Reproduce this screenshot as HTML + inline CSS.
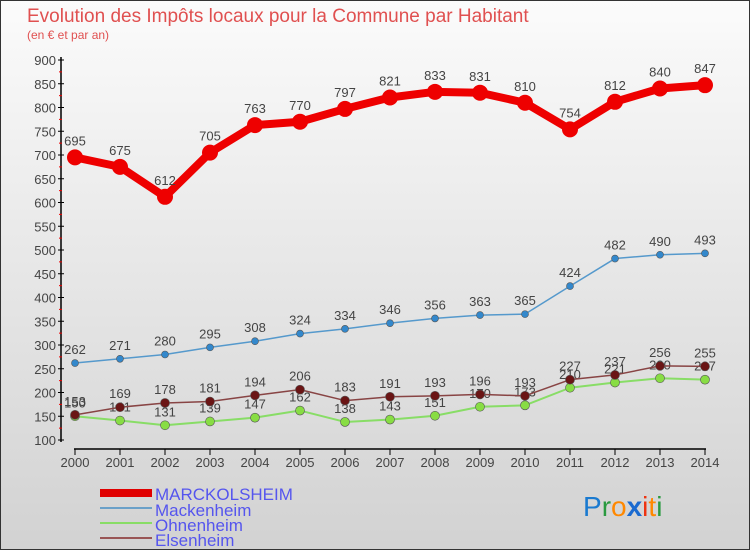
<!DOCTYPE html>
<html><head><meta charset="utf-8"><style>
body{margin:0;width:750px;height:550px;overflow:hidden;font-family:"Liberation Sans",sans-serif}
#c{position:absolute;left:0;top:0;width:748px;height:548px;border:1px solid #333;background:linear-gradient(#fbfbfb,#d2d2d2)}
</style></head><body>
<div id="c">
<svg id="s" width="750" height="550" style="position:absolute;left:-1px;top:-1px">
<text x="27" y="22" font-size="19" fill="#e05050">Evolution des Impôts locaux pour la Commune par Habitant</text>
<text x="27" y="39" font-size="12" fill="#e05050">(en € et par an)</text>
<g id="axes"></g><g id="series"></g>
<g font-size="17" fill="#5555ee">
<rect x="100" y="489" width="52" height="8" fill="#e00000"/>
<text x="155" y="500">MARCKOLSHEIM</text>
<rect x="100" y="507" width="52" height="2" fill="#6aa0c8"/>
<text x="155" y="516">Mackenheim</text>
<rect x="100" y="522" width="52" height="2" fill="#88dd66"/>
<text x="155" y="531">Ohnenheim</text>
<rect x="100" y="537" width="52" height="2" fill="#995555"/>
<text x="155" y="546">Elsenheim</text>
</g>
<g font-size="28" font-family="'Liberation Sans',sans-serif"><text x="583" y="516"><tspan fill="#1a7ad0">P</tspan><tspan fill="#2a9a40">r</tspan><tspan fill="#ff8800">o</tspan><tspan fill="#1a6ad0" font-weight="bold">x</tspan><tspan fill="#ee3311">i</tspan><tspan fill="#ff8800">t</tspan><tspan fill="#2a9a40">i</tspan></text></g>
</svg></div>
<script>
const years=[2000,2001,2002,2003,2004,2005,2006,2007,2008,2009,2010,2011,2012,2013,2014];
const yTicks=[100,150,200,250,300,350,400,450,500,550,600,650,700,750,800,850,900];
const marckolsheim=[695,675,612,705,763,770,797,821,833,831,810,754,812,840,847];
const mackenheim=[262,271,280,295,308,324,334,346,356,363,365,424,482,490,493];
const ohnenheim=[150,141,131,139,147,162,138,143,151,170,173,210,221,230,227];
const elsenheim=[153,169,178,181,194,206,183,191,193,196,193,227,237,256,255];
const NS="http://www.w3.org/2000/svg";
const X=i=>75+i*45, Y=v=>440-(v-100)*380/800;
function mk(p,t,a){const e=document.createElementNS(NS,t);for(const k in a)e.setAttribute(k,a[k]);p.appendChild(e);return e;}
const ax=document.getElementById('axes'), sr=document.getElementById('series');
let e=mk(ax,'line',{x1:61,y1:57,x2:61,y2:442,stroke:'#000','stroke-width':1.5});


e=mk(ax,'line',{x1:74,y1:449,x2:706,y2:449,stroke:'#000','stroke-width':1.5});


yTicks.forEach(v=>{
 mk(ax,'line',{x1:58,y1:Y(v),x2:64,y2:Y(v),stroke:'#000'});
 if(v<900) mk(ax,'line',{x1:59,y1:Y(v+25),x2:62,y2:Y(v+25),stroke:'#e00'});
 const t=mk(ax,'text',{x:56,y:Y(v)+5,'text-anchor':'end','font-size':13,fill:'#444'});t.textContent=v;
 
 
});
years.forEach((y,i)=>{
 mk(ax,'line',{x1:X(i),y1:449,x2:X(i),y2:455,stroke:'#000'});
 const t=mk(ax,'text',{x:X(i),y:467,'text-anchor':'middle','font-size':13,fill:'#444'});t.textContent=y;
 
 
});
function series(name,data,col,w,r,dot){
 const g=mk(sr,'g',{});
 
 
 const pl=mk(g,'polyline',{points:data.map((v,i)=>X(i)+','+Y(v)).join(' '),fill:'none',stroke:col,'stroke-width':w,'stroke-linejoin':'round'});
 
 
 data.forEach((v,i)=>{
  const c=mk(g,'circle',{cx:X(i),cy:Y(v),r:r,fill:dot,stroke:'#555','stroke-width':r>5?0:0.6});
  
  
  const t=mk(g,'text',{x:X(i),y:Y(v)-(r>5?12:9),'text-anchor':'middle','font-size':13,fill:'#444'});t.textContent=v;
  
  
 });
}
series('ohnenheim',ohnenheim,'#88dd66',2,4.5,'#88dd44');
series('elsenheim',elsenheim,'#884444',1.5,4.5,'#6a1515');
series('mackenheim',mackenheim,'#5599cc',1.5,3.5,'#3388cc');
series('marckolsheim',marckolsheim,'#ee0000',8,8,'#ee0000');
</script>
</body></html>
